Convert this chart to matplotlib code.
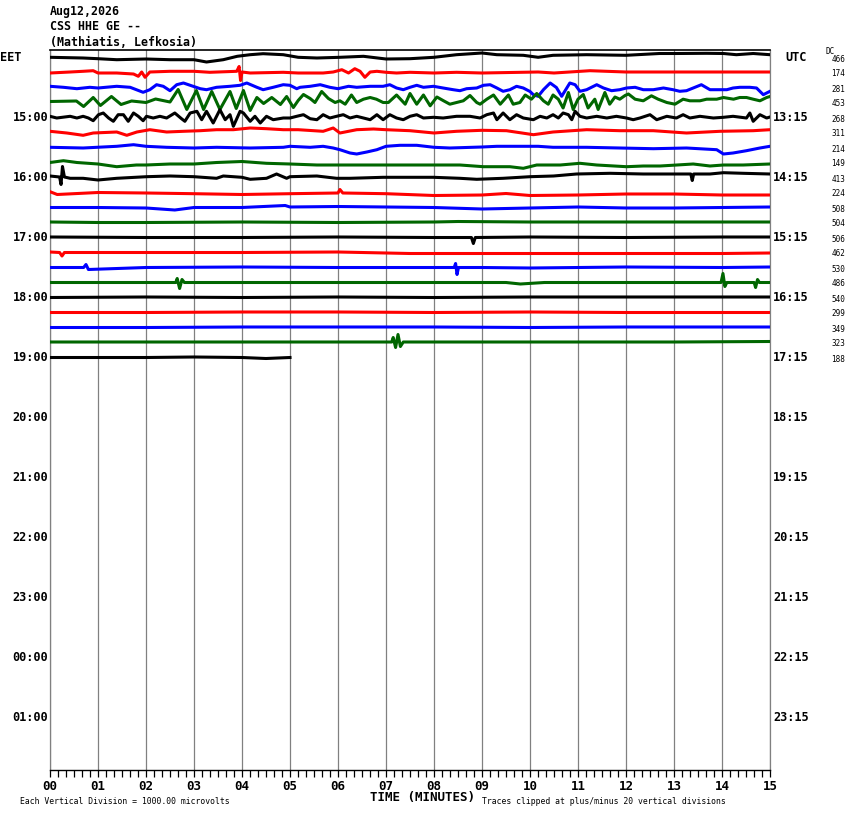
import numpy as np
import matplotlib.pyplot as plt

# helicorder page: 15 minute lines, colours repeat black/red/blue/green
trace_colors = ['black', 'red', 'blue', '#006600']

# each trace = vertex times (minutes) and offsets (pixels up)
t0 = [0, 0.69, 1.0, 1.39, 2.0, 2.5, 3.0, 3.26, 3.61, 3.9, 4.17, 4.44, 4.86, 5.17, 5.56, 6.04, 6.53, 7.0, 7.5, 8.0, 8.47, 9.0, 9.31, 9.86, 10.17, 10.48, 11.18, 12.0, 12.7, 13.05, 13.68, 14.03, 14.3, 14.65, 15.0]
v0 = [0.2, -0.5, -1.2, -2.2, -1.5, -2.2, -2.2, -4.5, -2.2, 1.2, 2.8, 3.8, 2.8, 0.2, -0.5, 0.2, 1.2, -1.5, -1.2, 0.2, 2.8, 4.5, 2.8, 2.2, 0.2, 2.2, 2.8, 2.2, 4.0, 4.0, 4.2, 4.0, 2.8, 4.0, 2.8]

t1 = [0, 0.42, 0.69, 0.9, 1.0, 1.39, 1.74, 1.84, 1.91, 1.98, 2.08, 2.5, 3.0, 3.33, 3.89, 3.94, 3.97, 4.0, 4.17, 4.86, 5.17, 5.69, 5.9, 6.08, 6.22, 6.35, 6.46, 6.56, 6.67, 6.81, 7.0, 7.22, 7.5, 8.0, 8.47, 9.0, 10.17, 10.5, 11.25, 12.0, 13.0, 14.0, 15.0]
v1 = [-0.5, 0.5, 1.2, 1.8, -0.5, -0.5, -1.5, -3.8, 0.5, -4.8, 0.5, 1.2, 1.2, 0.2, 1.2, 6.0, -8.0, 0.5, -0.5, 0.2, -0.5, -0.5, 0.5, 2.8, -0.5, 3.8, 1.2, -4.8, 0.5, 1.2, 0.2, -0.5, 0.2, -0.5, 0.2, -0.5, 0.5, -0.5, 1.8, 0.5, 0.5, 0.5, 0.5]

t2 = [0, 0.28, 0.56, 0.83, 1.0, 1.39, 1.67, 1.94, 2.08, 2.22, 2.36, 2.5, 2.64, 2.78, 2.92, 3.13, 3.26, 3.47, 3.75, 3.96, 4.1, 4.31, 4.44, 4.65, 4.86, 5.0, 5.14, 5.21, 5.42, 5.63, 5.83, 6.0, 6.22, 6.39, 6.67, 6.94, 7.08, 7.22, 7.36, 7.5, 7.64, 7.78, 7.99, 8.19, 8.4, 8.54, 8.68, 8.89, 9.03, 9.17, 9.31, 9.44, 9.58, 9.72, 9.86, 10.0, 10.07, 10.17, 10.28, 10.42, 10.55, 10.66, 10.83, 10.94, 11.04, 11.18, 11.39, 11.53, 11.7, 11.87, 12.01, 12.19, 12.36, 12.57, 12.78, 12.98, 13.12, 13.26, 13.4, 13.57, 13.75, 13.89, 14.1, 14.23, 14.37, 14.58, 14.72, 14.86, 15.0]
v2 = [1.2, 0.2, -1.2, 0.2, -0.5, 1.2, 0.2, -4.8, -2.2, 2.8, 1.2, -3.2, 2.8, 4.5, 2.2, -1.2, -2.2, 0.2, 1.2, 2.2, 4.5, 0.2, -2.2, 0.2, 2.8, 2.2, -1.2, 0.2, 1.2, 2.8, 0.2, -1.2, 1.2, 0.2, 1.2, 1.2, 2.8, -0.5, -2.2, 0.2, 2.2, 0.2, 1.2, -0.5, -2.2, -3.2, -1.2, -0.5, 2.2, 2.8, -0.5, -3.8, -2.2, 1.2, -0.5, -4.0, -7.2, -8.8, -2.2, 4.5, 0.0, -8.8, 4.5, 2.8, -3.8, -2.2, 2.8, -0.5, -3.2, -2.2, -0.5, 0.2, -2.2, -2.2, -0.5, -2.2, -3.8, -3.2, -0.5, 2.8, -2.2, -2.2, -2.2, -0.5, 0.2, 0.2, -0.5, -7.2, -3.8]

t3 = [0, 0.55, 0.7, 0.9, 1.05, 1.28, 1.48, 1.7, 2.0, 2.2, 2.5, 2.67, 2.85, 3.05, 3.2, 3.37, 3.54, 3.75, 3.88, 4.03, 4.17, 4.31, 4.45, 4.62, 4.8, 4.93, 5.07, 5.17, 5.28, 5.42, 5.52, 5.66, 5.8, 5.94, 6.04, 6.15, 6.28, 6.39, 6.53, 6.67, 6.8, 6.94, 7.05, 7.22, 7.4, 7.5, 7.64, 7.78, 7.92, 8.06, 8.2, 8.33, 8.47, 8.61, 8.75, 8.89, 8.96, 9.1, 9.24, 9.38, 9.55, 9.65, 9.79, 9.9, 10.03, 10.14, 10.28, 10.38, 10.48, 10.59, 10.69, 10.8, 10.9, 11.0, 11.11, 11.21, 11.35, 11.42, 11.56, 11.66, 11.77, 11.87, 11.98, 12.05, 12.19, 12.36, 12.53, 12.67, 12.85, 13.02, 13.19, 13.33, 13.54, 13.68, 13.89, 14.03, 14.24, 14.37, 14.51, 14.65, 14.79, 14.93, 15.0]
v3 = [1.0, 1.5, -4.0, 5.0, -3.0, 6.0, -2.0, 1.5, 0.0, 3.5, 0.5, 13.0, -7.0, 12.0, -7.0, 11.0, -7.0, 11.0, -6.0, 12.0, -8.0, 5.0, -1.0, 5.0, -2.0, 6.0, -5.0, 2.0, 8.0, 4.0, 0.0, 11.0, 4.0, 0.0, 1.7, -1.7, 7.5, 0.0, 3.3, 5.0, 3.3, 0.0, 0.0, 7.5, -1.7, 9.0, -1.7, 7.5, -3.3, 5.5, 1.7, -1.7, 0.0, 1.7, 7.0, 0.0, -1.7, 3.3, 7.5, -1.7, 7.5, -1.7, 0.0, 7.5, 3.3, 9.0, 1.7, -1.7, 7.5, 3.3, -5.5, 10.0, -7.0, 3.3, 8.0, -5.5, 3.3, -7.0, 10.0, -1.7, 5.5, 3.3, 7.0, 8.5, 3.3, 1.7, 6.7, 3.3, 0.0, -1.7, 3.3, 1.7, 1.7, 3.3, 3.3, 5.0, 3.3, 5.0, 5.0, 3.3, 1.7, 5.0, 6.0]

t4 = [0, 0.14, 0.42, 0.56, 0.69, 0.8, 0.9, 1.01, 1.11, 1.22, 1.32, 1.42, 1.53, 1.63, 1.74, 1.84, 1.94, 2.01, 2.15, 2.29, 2.43, 2.6, 2.74, 2.81, 2.92, 3.06, 3.16, 3.26, 3.4, 3.54, 3.65, 3.75, 3.82, 3.96, 4.03, 4.17, 4.27, 4.38, 4.51, 4.65, 4.86, 5.0, 5.14, 5.28, 5.42, 5.56, 5.69, 5.83, 5.97, 6.11, 6.25, 6.39, 6.53, 6.67, 6.81, 6.94, 7.08, 7.22, 7.36, 7.5, 7.64, 7.78, 7.99, 8.19, 8.47, 8.75, 8.96, 9.1, 9.24, 9.31, 9.44, 9.58, 9.72, 9.86, 10.07, 10.21, 10.35, 10.48, 10.59, 10.69, 10.8, 10.87, 10.94, 11.04, 11.18, 11.39, 11.6, 11.8, 12.01, 12.15, 12.29, 12.5, 12.64, 12.85, 13.05, 13.19, 13.33, 13.54, 13.82, 14.03, 14.23, 14.51, 14.58, 14.65, 14.79, 14.93, 15.0]
v4 = [1.2, -0.5, 1.2, -0.5, 1.2, -0.5, -3.2, 2.8, 4.5, -0.5, -3.8, 2.8, 2.8, -3.8, 4.5, 1.2, -3.2, 1.2, -0.5, 1.2, -0.5, 4.5, -1.2, -3.8, 4.5, 6.2, -2.2, 6.2, -5.5, 7.8, -2.2, 2.8, -8.8, 6.2, 4.5, -3.8, 1.2, -5.5, 1.2, -2.2, -0.5, -0.5, 1.2, 2.8, -1.2, -2.2, 2.8, -0.5, 1.2, 2.8, -0.5, 1.2, -0.5, -2.2, 2.8, -2.2, 2.8, -0.5, -2.2, 1.2, 2.8, -0.5, 0.2, -0.5, 1.2, 1.2, -0.5, 2.8, 4.5, -2.2, 4.5, -2.2, 2.8, -0.5, -2.2, 1.2, -0.5, 2.8, -0.5, 4.5, 2.8, -2.2, 6.2, 1.2, -0.5, 1.2, -0.5, 1.2, -0.5, -2.2, -0.5, 2.8, -2.2, 1.2, -0.5, 2.8, -0.5, 1.2, -0.5, 0.2, 1.2, -0.5, 4.5, -3.8, 2.8, -0.5, 0.5]

t5 = [0, 0.35, 0.69, 0.9, 1.39, 1.6, 1.81, 2.08, 2.43, 2.78, 3.13, 3.47, 3.82, 4.17, 4.51, 4.86, 5.17, 5.69, 5.9, 6.04, 6.39, 6.74, 7.0, 7.5, 8.0, 8.47, 9.0, 9.51, 10.07, 10.48, 11.18, 11.87, 12.57, 13.26, 13.96, 14.65, 15.0]
v5 = [1.2, -0.5, -2.8, -0.5, 0.5, -2.8, 0.5, 2.8, 0.5, 1.2, 1.8, 2.8, 2.8, 4.5, 3.8, 2.8, 2.8, 1.2, 4.5, -0.5, 2.8, 3.5, 2.8, 1.8, -0.5, 1.2, 2.2, 1.8, -2.2, 0.5, 2.8, 1.8, 1.8, -0.5, 1.2, 1.8, 2.8]

t6 = [0, 0.69, 1.39, 1.74, 2.0, 2.43, 3.0, 3.47, 4.17, 4.86, 5.0, 5.42, 5.69, 5.9, 6.04, 6.25, 6.39, 6.6, 6.81, 7.0, 7.29, 7.64, 8.0, 8.33, 9.0, 9.31, 10.17, 10.48, 11.18, 11.87, 12.57, 13.26, 13.89, 14.03, 14.23, 14.51, 14.79, 15.0]
v6 = [0.2, -0.5, 1.2, 2.8, 1.2, 0.2, -0.5, 0.2, -0.5, 0.2, 1.2, 0.2, 1.2, -0.5, -2.2, -5.5, -6.5, -4.5, -2.2, 1.2, 2.2, 2.2, 0.2, -0.5, 0.5, 1.2, 1.2, 0.2, 0.2, -0.5, -1.2, -0.5, -2.2, -6.5, -5.5, -3.2, -0.5, 1.2]

t7 = [0, 0.28, 0.56, 1.0, 1.39, 1.8, 2.0, 2.5, 3.0, 3.47, 4.0, 4.51, 5.0, 5.56, 6.0, 7.0, 7.99, 8.54, 9.03, 9.58, 9.86, 10.14, 10.63, 11.04, 11.39, 12.01, 12.36, 12.71, 13.06, 13.4, 13.75, 14.03, 14.44, 15.0]
v7 = [0.0, 1.8, 0.0, -1.5, -4.2, -2.5, -2.5, -1.5, -1.5, 0.0, 1.0, -0.8, -1.5, -2.5, -2.5, -2.5, -2.5, -2.5, -4.2, -4.2, -5.8, -2.5, -2.5, -0.8, -2.5, -4.2, -3.5, -3.5, -2.5, -1.5, -3.5, -2.5, -2.5, -1.5]

t8 = [0, 0.2, 0.23, 0.26, 0.3, 0.42, 0.69, 1.0, 1.39, 2.01, 2.5, 3.0, 3.47, 3.61, 4.0, 4.17, 4.51, 4.72, 4.93, 5.0, 5.56, 5.97, 6.25, 6.94, 7.99, 8.54, 8.89, 9.44, 10.0, 10.49, 10.97, 11.67, 12.36, 13.06, 13.35, 13.38, 13.41, 13.75, 14.03, 14.44, 15.0]
v8 = [1.5, 0.5, -7.0, 11.0, 0.5, -0.8, -0.8, -2.5, -0.8, 0.8, 1.5, 0.8, -0.8, 1.5, 0.2, -1.8, -0.8, 3.5, -0.8, 0.8, 1.5, -0.8, -0.8, 0.2, 0.2, -0.8, -1.8, -0.8, 0.8, 1.5, 3.5, 4.2, 3.5, 3.5, 3.5, -3.0, 3.5, 3.5, 4.8, 4.2, 3.5]

t9 = [0, 0.15, 1.0, 2.0, 3.0, 4.0, 5.0, 6.0, 6.04, 6.1, 7.0, 8.0, 9.0, 9.5, 10.0, 11.0, 12.0, 13.0, 14.0, 15.0]
v9 = [0.8, -2.0, 0.0, -0.5, -1.2, -2.0, -1.2, -0.5, 3.0, -0.5, -1.2, -3.0, -2.5, -1.0, -3.0, -2.5, -1.5, -1.5, -2.5, -2.5]

t10 = [0, 1.0, 2.0, 2.6, 3.0, 4.0, 4.9, 5.0, 6.0, 7.0, 8.0, 9.0, 10.0, 11.0, 12.0, 13.0, 14.0, 15.0]
v10 = [0.0, 0.0, -0.5, -2.5, 0.0, 0.0, 2.0, 0.5, 1.0, 0.5, 0.0, -1.5, -0.5, 0.5, -0.5, -0.5, 0.0, 0.5]

t11 = [0, 1.0, 2.0, 4.0, 6.0, 8.0, 8.5, 10.0, 12.0, 14.0, 15.0]
v11 = [0.5, 0.0, 0.0, 0.5, 0.0, 0.5, 1.0, 0.5, 0.5, 0.5, 0.5]

t12 = [0, 2.0, 4.0, 6.0, 8.0, 8.78, 8.82, 8.86, 10.0, 12.0, 14.0, 15.0]
v12 = [0.5, 0.0, 0.0, 0.5, 0.0, 0.0, -6.0, 0.0, 0.5, 0.0, 0.5, 0.5]

t13 = [0, 0.2, 0.25, 0.3, 2.0, 4.0, 6.0, 7.5, 8.0, 10.0, 12.0, 14.0, 15.0]
v13 = [0.5, 0.0, -3.5, 0.0, 0.0, 0.0, 0.5, -1.0, -1.0, -1.0, -1.0, -1.0, -0.5]

t14 = [0, 0.7, 0.75, 0.8, 2.0, 4.0, 6.0, 8.0, 8.42, 8.45, 8.48, 8.51, 9.0, 10.0, 12.0, 14.0, 15.0]
v14 = [0.0, 0.0, 3.0, -2.0, 0.0, 0.5, 0.0, 0.0, 0.0, 4.0, -7.0, 0.0, 0.0, -0.5, 0.5, 0.0, 0.5]

t15 = [0, 2.0, 2.62, 2.65, 2.7, 2.75, 2.8, 3.0, 5.0, 7.0, 9.5, 9.8, 10.3, 12.0, 13.98, 14.02, 14.06, 14.1, 14.67, 14.7, 14.74, 14.78, 15.0]
v15 = [0.0, 0.0, 0.0, 4.0, -6.0, 3.0, 0.0, 0.0, 0.0, 0.0, 0.0, -1.5, 0.0, 0.0, 0.0, 9.0, -4.0, 0.0, 0.0, -5.0, 3.0, 0.0, 0.0]

t16 = [0, 2.0, 4.0, 6.0, 8.0, 10.0, 12.0, 14.0, 15.0]
v16 = [0.0, 0.5, 0.0, 0.5, 0.0, 0.5, 0.5, 0.5, 0.5]

t17 = [0, 2.0, 4.0, 6.0, 8.0, 10.0, 12.0, 14.0, 15.0]
v17 = [0.0, 0.0, 0.5, 0.5, 0.0, 0.5, 0.0, 0.0, 0.0]

t18 = [0, 2.0, 4.0, 6.0, 8.0, 10.0, 12.0, 14.0, 15.0]
v18 = [0.0, 0.0, 0.5, 0.5, 0.5, 0.0, 0.5, 0.5, 0.5]

t19 = [0, 2.0, 4.0, 7.0, 7.12, 7.15, 7.2, 7.25, 7.3, 7.36, 9.0, 11.0, 13.0, 15.0]
v19 = [0.5, 0.5, 0.5, 0.5, 0.5, 5.0, -5.0, 8.0, -4.0, 0.5, 0.5, 0.5, 0.5, 1.0]

t20 = [0, 1.0, 2.0, 3.0, 4.0, 4.5, 5.0]
v20 = [0.0, 0.0, 0.0, 0.5, 0.0, -1.0, 0.0]

traces_t = [t0, t1, t2, t3, t4, t5, t6, t7, t8, t9, t10, t11, t12, t13, t14, t15, t16, t17, t18, t19, t20]
traces_v = [v0, v1, v2, v3, v4, v5, v6, v7, v8, v9, v10, v11, v12, v13, v14, v15, v16, v17, v18, v19, v20]

# per-line numbers printed in the right margin
dc_values = ['466', '174', '281', '453', '268', '311', '214', '149', '413', '224', '508',
             '504', '506', '462', '530', '486', '540', '299', '349', '323', '188']

eet_labels = ['15:00', '16:00', '17:00', '18:00', '19:00', '20:00', '21:00', '22:00', '23:00', '00:00', '01:00']
utc_labels = ['13:15', '14:15', '15:15', '16:15', '17:15', '18:15', '19:15', '20:15', '21:15', '22:15', '23:15']
minute_labels = ['%02d' % m for m in range(16)]

n_rows = 48
px_per_row = 15.0
mono = 'DejaVu Sans Mono'

fig = plt.figure(figsize=(8.5, 8.14), dpi=100)
ax = fig.add_axes([50/850, 44/814, 720/850, 720/814])
ax.set_xlim(0, 15)
ax.set_ylim(n_rows - 0.5, -0.5)

# minute grid
for m in range(16):
    ax.axvline(m, color='#808080', lw=0.9, zorder=1)

for i in range(len(traces_t)):
    y = i - np.array(traces_v[i]) / px_per_row
    ax.plot(traces_t[i], y, color=trace_colors[i % 4], lw=2.2, zorder=3)

ax.set_yticks([])
ax.set_xticks(range(16))
ax.set_xticklabels(minute_labels, fontfamily=mono, fontweight='bold', fontsize=9)
ax.set_xticks(np.arange(0, 15.01, 1/6), minor=True)
ax.tick_params(axis='x', which='both', direction='out', length=5, width=0.9, color='black', pad=2)
for s in ['left', 'right']:
    ax.spines[s].set_color('#808080')
    ax.spines[s].set_linewidth(0.9)
ax.spines['top'].set_linewidth(1.2)
ax.spines['bottom'].set_linewidth(1.0)

# side labels
ax.text(-50/48, 0, 'EET', ha='left', va='center', fontfamily=mono, fontweight='bold', fontsize=8.6, clip_on=False)
ax.text(15 + 15/48, 0, 'UTC', ha='left', va='center', fontfamily=mono, fontweight='bold', fontsize=8.6, clip_on=False)
for k in range(len(eet_labels)):
    row = 4 * (k + 1)
    ax.text(-2/48, row, eet_labels[k], ha='right', va='center', fontfamily=mono, fontweight='bold', fontsize=8.6, clip_on=False)
    ax.text(15 + 3/48, row, utc_labels[k], ha='left', va='center', fontfamily=mono, fontweight='bold', fontsize=8.6, clip_on=False)
for i in range(len(dc_values)):
    ax.text(15 + 75/48, i + 0.1, dc_values[i], ha='right', va='center', fontfamily=mono, fontsize=5.5, clip_on=False)
ax.text(15 + 56/48, -0.4, 'DC', ha='left', va='center', fontfamily=mono, fontsize=5.5, clip_on=False)

# header
fig.text(50/850, 1 - 12/814, 'Aug12,2026', ha='left', va='center', fontfamily=mono, fontweight='bold', fontsize=8.4)
fig.text(50/850, 1 - 27/814, 'CSS HHE GE --', ha='left', va='center', fontfamily=mono, fontweight='bold', fontsize=8.4)
fig.text(50/850, 1 - 42/814, '(Mathiatis, Lefkosia)', ha='left', va='center', fontfamily=mono, fontweight='bold', fontsize=8.4)

# footer
fig.text(422/850, 1 - 798/814, 'TIME (MINUTES)', ha='center', va='center', fontfamily=mono, fontweight='bold', fontsize=9)
fig.text(20/850, 1 - 801/814, 'Each Vertical Division = 1000.00 microvolts', ha='left', va='center', fontfamily=mono, fontsize=5.9)
fig.text(482/850, 1 - 801/814, 'Traces clipped at plus/minus 20 vertical divisions', ha='left', va='center', fontfamily=mono, fontsize=5.9)

fig.savefig('out.png', dpi=100)
